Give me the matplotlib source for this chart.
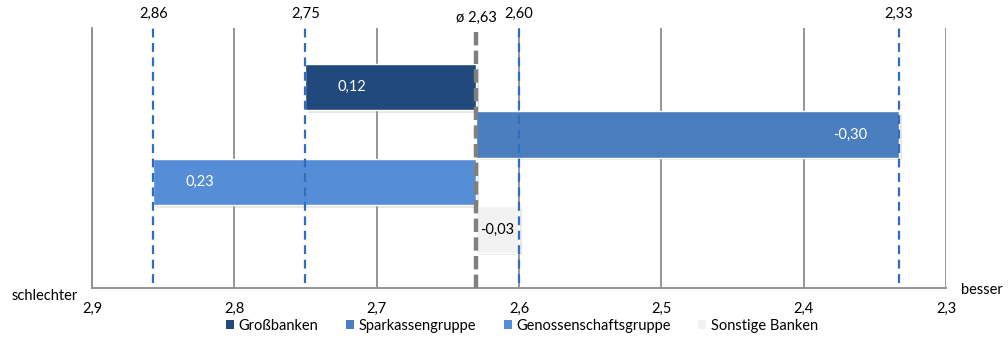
import matplotlib
matplotlib.use("Agg")
import matplotlib.pyplot as plt
import matplotlib.patheffects as pe
from matplotlib.patches import Patch
from matplotlib.transforms import blended_transform_factory

plt.rcParams['font.family'] = ['Lato', 'DejaVu Sans']

# Daten
gruppen = ['Großbanken', 'Sparkassengruppe', 'Genossenschaftsgruppe', 'Sonstige Banken']
werte = [2.75, 2.333, 2.857, 2.60]
farben = ['#22497C', '#4A7EBF', '#558ED6', '#F2F2F2']
label_farben = ['white', 'white', 'white', 'black']
durchschnitt = 2.63
x_ticks = [2.9, 2.8, 2.7, 2.6, 2.5, 2.4, 2.3]

fs = 10.5

fig = plt.figure(figsize=(10.08, 3.38), dpi=100)
ax = fig.add_axes([92 / 1008, 1 - 288 / 338, (946 - 92) / 1008, 260 / 338])

ax.set_xlim(2.9, 2.3)
ax.set_ylim(3 + 1.232, -1.242)
ax.set_xticks(x_ticks)
ax.set_xticklabels([f'{t:.1f}'.replace('.', ',') for t in x_ticks], fontsize=fs)
ax.set_yticks([])
ax.tick_params(axis='x', length=0, pad=10)
ax.grid(axis='x', color='#8C8C8C', linewidth=1.3)
ax.set_axisbelow(True)
for s in ['top', 'right']:
    ax.spines[s].set_visible(False)
for s in ['left', 'bottom']:
    ax.spines[s].set_color('#8C8C8C')
    ax.spines[s].set_linewidth(1.3)

shadow = [pe.SimplePatchShadow(offset=(2, -2), shadow_rgbFace='#A0A0A0', alpha=0.25), pe.Normal()]
for i, (g, w) in enumerate(zip(gruppen, werte)):
    b = ax.barh(i, w - durchschnitt, left=durchschnitt, height=0.97, color=farben[i],
                edgecolor='white', linewidth=1, zorder=2)
    b[0].set_path_effects(shadow)
    diff = w - durchschnitt
    txt = f'{diff:.2f}'.replace('.', ',')
    if abs(diff) < 0.05:
        ax.text((w + durchschnitt) / 2, i, txt, ha='center', va='center',
                fontsize=fs, color=label_farben[i], zorder=5)
    else:
        richtung = 1 if w > durchschnitt else -1
        ax.annotate(txt, (w, i), xytext=(32 * richtung, 0), textcoords='offset pixels',
                    ha='left' if richtung > 0 else 'right', va='center',
                    fontsize=fs, color=label_farben[i], zorder=5)

trans = blended_transform_factory(ax.transData, ax.transAxes)
for w in werte:
    ax.axvline(w, ymin=0.019, ymax=1.019, color='#2F6DC0', linestyle=(0, (4, 2.5)),
               linewidth=1.6, zorder=4, clip_on=False)
    ax.text(w, 1.055, f'{w:.2f}'.replace('.', ','), transform=trans, ha='center',
            va='center', fontsize=fs)
ax.axvline(durchschnitt, ymin=0, ymax=1, color='#808080', linestyle=(0, (3, 1.2)),
           linewidth=3.2, zorder=4)
ax.text(durchschnitt, 1.04, 'ø ' + f'{durchschnitt:.2f}'.replace('.', ','), transform=trans,
        ha='center', va='center', fontsize=fs)

fig.text(45 / 1008, 1 - 296 / 338, 'schlechter', ha='center', va='center', fontsize=fs)
fig.text(982 / 1008, 1 - 290 / 338, 'besser', ha='center', va='center', fontsize=fs)

handles = [Patch(facecolor=c, edgecolor='none') for c in farben]
fig.legend(handles, gruppen, loc='center', bbox_to_anchor=(522 / 1008, 12 / 338), ncol=4,
           frameon=False, fontsize=fs, handlelength=0.55, handleheight=0.55,
           handletextpad=0.3, columnspacing=1.9, borderpad=0)

fig.savefig('out.png', dpi=100)
